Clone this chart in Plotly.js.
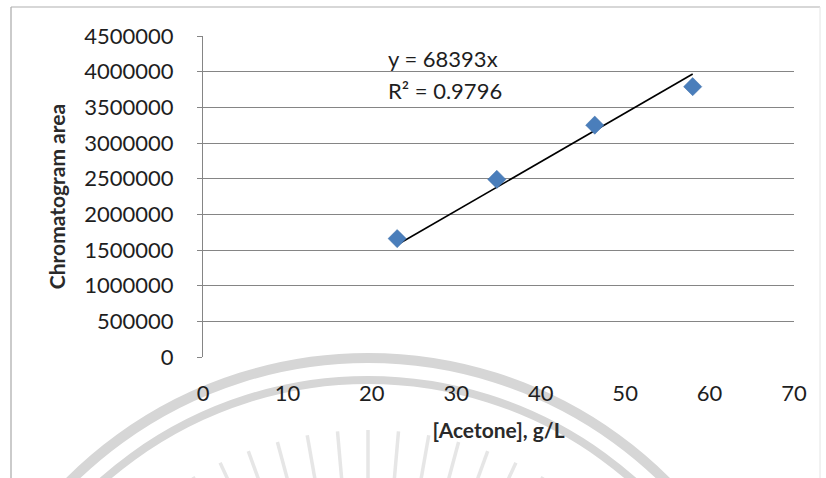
<!DOCTYPE html>
<html>
<head>
<meta charset="utf-8">
<script src="https://cdn.plot.ly/plotly-3.0.1.min.js"></script>
<style>
  html, body { margin: 0; padding: 0; background: #ffffff; }
  #wrap { position: relative; width: 826px; height: 478px; overflow: hidden; }
  #bg { position: absolute; left: 0; top: 0; }
  #chart { position: absolute; left: 0; top: 0; width: 826px; height: 478px; }
</style>
</head>
<body>
<div id="wrap">
  <svg id="bg" width="826" height="478" xmlns="http://www.w3.org/2000/svg"></svg>
  <div id="chart"></div>
</div>
<script>
// ---- data ----
const acetone = [23.0, 34.8, 46.4, 58.0];          // [Acetone], g/L
const area = [1660000, 2490000, 3250000, 3790000]; // Chromatogram area
const slope = 68393;                               // trendline y = 68393x
const r2Label = "R² = 0.9796";
const eqLabel = "y = 68393x";
const xTicks = [0, 10, 20, 30, 40, 50, 60, 70];
const yTicks = [0, 500000, 1000000, 1500000, 2000000, 2500000, 3000000, 3500000, 4000000, 4500000];

// ---- faint background frame & watermark (decoration) ----
(function () {
  const svg = document.getElementById('bg');
  const ns = 'http://www.w3.org/2000/svg';
  function add(tag, attrs) {
    const el = document.createElementNS(ns, tag);
    for (const k in attrs) el.setAttribute(k, attrs[k]);
    svg.appendChild(el);
  }
  add('line', {x1: 11, y1: 7, x2: 11, y2: 478, stroke: '#a8a8a8', 'stroke-width': 1.2});
  add('line', {x1: 11, y1: 7, x2: 820, y2: 7, stroke: '#b0b0b0', 'stroke-width': 1.2});
  add('line', {x1: 820, y1: 7, x2: 820, y2: 478, stroke: '#e4e4e4', 'stroke-width': 1});
  const cx = 368, cy = 780;
  function arc(r, w) {
    const a0 = Math.PI * 1.1, a1 = Math.PI * 1.9;
    const x0 = cx + r * Math.cos(a0), y0 = cy + r * Math.sin(a0);
    const x1 = cx + r * Math.cos(a1), y1 = cy + r * Math.sin(a1);
    add('path', {d: `M${x0},${y0} A${r},${r} 0 0 1 ${x1},${y1}`, fill: 'none', stroke: '#d6d6d6', 'stroke-width': w});
  }
  arc(422, 10);
  arc(400, 8);
  for (let deg = -60; deg <= 60; deg += 5) {
    const a = (deg - 90) * Math.PI / 180;
    const r0 = 260, r1 = 350;
    add('line', {x1: cx + r0 * Math.cos(a), y1: cy + r0 * Math.sin(a),
                 x2: cx + r1 * Math.cos(a), y2: cy + r1 * Math.sin(a),
                 stroke: '#e6e6e6', 'stroke-width': 3.5});
  }
})();

// ---- chart ----
const xMin = Math.min(...acetone), xMax = Math.max(...acetone);
const trendX = [xMin, xMax];
const trendY = trendX.map(v => slope * v);

const font = 'Lato, "Open Sans", sans-serif';
const txt = '#1e1e1e';

const data = [
  {
    x: trendX, y: trendY, type: 'scatter', mode: 'lines',
    line: {color: '#000000', width: 1.6}, hoverinfo: 'skip', showlegend: false
  },
  {
    x: acetone, y: area, type: 'scatter', mode: 'markers',
    marker: {symbol: 'diamond', size: 14, color: '#4a7ebb', line: {color: '#3f6fa8', width: 0.5}},
    showlegend: false
  }
];

const layout = {
  width: 826, height: 478,
  margin: {l: 203, r: 32, t: 36, b: 121},
  paper_bgcolor: 'rgba(0,0,0,0)',
  plot_bgcolor: 'rgba(0,0,0,0)',
  font: {family: font, size: 22, color: txt},
  xaxis: {
    range: [0, 70], tickvals: xTicks, ticktext: xTicks.map(String),
    showgrid: false, zeroline: false, showline: false, ticks: '',
    ticklabelstandoff: 21,
    tickfont: {family: font, size: 22, color: txt},
    title: {text: '<b>[Acetone], g/L</b>', font: {family: font, size: 21, color: '#2a2a2a'}, standoff: 18}
  },
  yaxis: {
    range: [0, 4500000], tickvals: yTicks, ticktext: yTicks.map(String),
    showgrid: true, gridcolor: '#858585', gridwidth: 1,
    zeroline: false, showline: true, linecolor: '#858585', linewidth: 1,
    ticks: 'outside', ticklen: 5, tickcolor: '#858585',
    ticklabelstandoff: 19,
    tickfont: {family: font, size: 22, color: txt},
    title: {text: '<b>Chromatogram area</b>', font: {family: font, size: 21, color: '#2a2a2a'}, standoff: 12}
  },
  annotations: [
    {xref: 'paper', yref: 'paper', x: (386 - 203) / 591, y: (357 - 58) / 321, xanchor: 'left', yanchor: 'middle',
     text: eqLabel, showarrow: false, font: {family: font, size: 22, color: txt}},
    {xref: 'paper', yref: 'paper', x: (386 - 203) / 591, y: (357 - 90) / 321, xanchor: 'left', yanchor: 'middle',
     text: r2Label, showarrow: false, font: {family: font, size: 22, color: txt}}
  ]
};

Plotly.newPlot('chart', data, layout, {displayModeBar: false, staticPlot: true});
</script>
</body>
</html>
